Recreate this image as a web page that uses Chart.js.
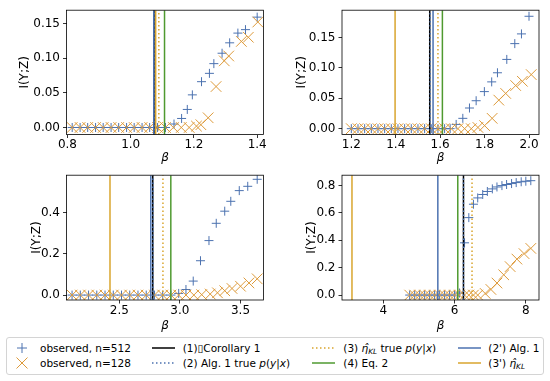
<!DOCTYPE html>
<html><head><meta charset="utf-8">
<script src="https://cdn.jsdelivr.net/npm/chart.js@4/dist/chart.umd.min.js"></script>
<style>
html,body{margin:0;padding:0;background:#fff;}
body{width:550px;height:381px;position:relative;overflow:hidden;font-family:"DejaVu Sans",sans-serif;}
canvas{position:absolute;}
#legend{position:absolute;left:6px;top:337px;width:538px;height:38px;box-sizing:border-box;border:1px solid #d4d4d4;border-radius:3px;}
.lt{position:absolute;font-size:10.5px;line-height:14px;white-space:nowrap;color:#000;}
.lt sub{font-size:70%;vertical-align:-0.3em;line-height:0;}
svg.lm{position:absolute;overflow:visible;}
</style></head>
<body>
<canvas id="c1" width="275" height="165" style="left:0;top:0;width:275px;height:165px"></canvas>
<canvas id="c2" width="275" height="165" style="left:275px;top:0;width:275px;height:165px"></canvas>
<canvas id="c3" width="275" height="168" style="left:0;top:165px;width:275px;height:168px"></canvas>
<canvas id="c4" width="275" height="168" style="left:275px;top:165px;width:275px;height:168px"></canvas>
<div id="legend"></div>
<script>
// ---------------- DATA ----------------
// Panel 1 (top-left)
const p1Beta512 = [0.815,0.840,0.864,0.889,0.913,0.938,0.962,0.987,1.011,1.036,1.060,1.085,1.110,1.137,1.161,1.179,1.195,1.224,1.249,1.263,1.289,1.313,1.339,1.363,1.400];
const p1I512    = [0,0,0,0,0,0,0,0,0,0,0,0,0,0.005,0.013,0.026,0.047,0.066,0.078,0.092,0.107,0.122,0.136,0.141,0.159];
const p1Beta128 = [0.815,0.840,0.864,0.889,0.913,0.938,0.962,0.987,1.011,1.036,1.060,1.085,1.110,1.135,1.160,1.185,1.208,1.222,1.245,1.270,1.296,1.310,1.350,1.372,1.402];
const p1I128    = [0,0,0,0,0,0,0,0,0,0,0,0,0,0,0,0,0.002,0.004,0.014,0.059,0.096,0.103,0.124,0.130,0.152];
const p1Lines   = [1.074,1.074,1.089,1.107,1.073,1.079]; // (1),(2),(3),(4),(2'),(3')
const p1XTicks  = [0.8,1.0,1.2,1.4];
const p1YTicks  = [0,0.05,0.10,0.15];

// Panel 2 (top-right)
const p2Beta512 = [1.200,1.230,1.260,1.290,1.320,1.350,1.380,1.410,1.440,1.470,1.500,1.530,1.560,1.590,1.620,1.645,1.672,1.702,1.732,1.762,1.799,1.832,1.858,1.900,1.936,1.966,2.000];
const p2I512    = [0,0,0,0,0,0,0,0,0,0,0,0,0,0,0,0,0.007,0.017,0.034,0.046,0.061,0.077,0.092,0.114,0.140,0.156,0.185];
const p2Beta128 = [1.200,1.230,1.260,1.290,1.320,1.350,1.380,1.410,1.440,1.470,1.500,1.530,1.560,1.590,1.620,1.650,1.680,1.710,1.740,1.770,1.800,1.834,1.864,1.895,1.940,1.970,2.010];
const p2I128    = [0,0,0,0,0,0,0,0,0,0,0,0,0,0,0,0,0,0,0,0.002,0.005,0.017,0.047,0.058,0.071,0.078,0.089];
const p2Lines   = [1.553,1.555,1.590,1.610,1.568,1.397];
const p2XTicks  = [1.2,1.4,1.6,1.8,2.0];
const p2YTicks  = [0,0.05,0.10,0.15];

// Panel 3 (bottom-left)
const p3Beta512 = [2.110,2.178,2.246,2.314,2.382,2.450,2.518,2.586,2.654,2.722,2.790,2.858,2.926,2.990,3.050,3.110,3.170,3.240,3.300,3.370,3.420,3.490,3.560,3.638];
const p3I512    = [0,0,0,0,0,0,0,0,0,0,0,0,0,0.008,0.027,0.068,0.167,0.265,0.349,0.408,0.456,0.508,0.529,0.563];
const p3Beta128 = [2.110,2.178,2.246,2.314,2.382,2.450,2.518,2.586,2.654,2.722,2.790,2.858,2.926,2.990,3.050,3.115,3.180,3.250,3.310,3.370,3.430,3.500,3.570,3.638];
const p3I128    = [0,0,0,0,0,0,0,0,0,0,0,0,0,0,0,0,0.002,0.005,0.011,0.021,0.032,0.043,0.059,0.079];
const p3Lines   = [2.776,2.778,2.860,2.925,2.760,2.423];
const p3XTicks  = [2.5,3.0,3.5];
const p3YTicks  = [0,0.2,0.4];

// Panel 4 (bottom-right)
const p4Beta512 = [4.74,4.88,5.02,5.16,5.30,5.44,5.58,5.72,5.86,6.00,6.14,6.28,6.40,6.53,6.65,6.79,6.92,7.06,7.19,7.33,7.46,7.60,7.73,7.87,8.00,8.14];
const p4I512    = [0,0,0,0,0,0,0,0,0,0,0.015,0.382,0.566,0.664,0.710,0.735,0.757,0.776,0.790,0.800,0.808,0.815,0.822,0.828,0.832,0.836];
const p4Beta128 = [4.74,4.88,5.02,5.16,5.30,5.44,5.58,5.72,5.86,6.00,6.14,6.28,6.40,6.53,6.65,6.86,7.02,7.19,7.38,7.56,7.75,7.95,8.14];
const p4I128    = [0,0,0,0,0,0,0,0,0,0,0,0,0,0,0,0.012,0.041,0.088,0.148,0.208,0.263,0.303,0.341];
const p4Lines   = [6.25,6.25,6.49,6.09,5.53,3.12];
const p4XTicks  = [4,6,8];
const p4YTicks  = [0,0.2,0.4,0.6,0.8];

// -------------- STYLES ---------------
const BLUE = '#4c72b0', ORANGE = '#dd9a3a', GOLD = '#d9a52e', GREEN = '#4f9a30', BLACK = '#000000';
const DOT = [1.5, 2.5];
const lineStyles = [
  {color: BLACK, dash: []},   // (1)
  {color: BLUE,  dash: DOT},  // (2)
  {color: GOLD,  dash: DOT},  // (3)
  {color: GREEN, dash: []},   // (4)
  {color: BLUE,  dash: []},   // (2')
  {color: GOLD,  dash: []}    // (3')
];

Chart.defaults.font.family = 'DejaVu Sans';
Chart.defaults.font.size = 12;
Chart.defaults.color = '#000';

const framePlugin = {
  id: 'frame',
  afterDatasetsDraw(chart) {
    const {ctx, chartArea: a} = chart;
    ctx.save();
    ctx.strokeStyle = '#000';
    ctx.lineWidth = 0.8;
    ctx.strokeRect(a.left, a.top, a.right - a.left, a.bottom - a.top);
    ctx.restore();
  }
};

function makePanel(id, o) {
  const ds = [];
  ds.push({
    data: o.b512.map((x, i) => ({x: x, y: o.i512[i]})),
    pointStyle: 'cross', pointRadius: 4.5, pointBorderWidth: 1,
    borderColor: BLUE, backgroundColor: BLUE, showLine: false, clip: 0, order: 100
  });
  ds.push({
    data: o.b128.map((x, i) => ({x: x, y: o.i128[i]})),
    pointStyle: 'crossRot', pointRadius: 7.5, pointBorderWidth: 1,
    borderColor: ORANGE, backgroundColor: ORANGE, showLine: false, clip: 0, order: 99
  });
  o.lines.forEach((v, k) => {
    ds.push({
      data: [{x: v, y: o.yMin}, {x: v, y: o.yMax}],
      showLine: true, pointRadius: 0, borderWidth: 1.5,
      borderColor: lineStyles[k].color, borderDash: lineStyles[k].dash,
      fill: false, clip: 0, order: 90 - k
    });
  });
  const tickFont = {family: 'DejaVu Sans', size: 12};
  return new Chart(document.getElementById(id), {
    type: 'scatter',
    data: {datasets: ds},
    plugins: [framePlugin],
    options: {
      responsive: false, animation: false, devicePixelRatio: 1, events: [],
      layout: {padding: o.pad},
      plugins: {legend: {display: false}, tooltip: {enabled: false}},
      scales: {
        x: {
          type: 'linear', min: o.xMin, max: o.xMax,
          afterBuildTicks: s => { s.ticks = o.xTicks.map(v => ({value: v})); },
          afterFit: s => { s.height = o.xH; },
          ticks: {font: tickFont, color: '#000', padding: 0, maxRotation: 0, minRotation: 0, autoSkip: false,
                  callback: v => Number(v).toFixed(o.xDec)},
          grid: {display: true, drawOnChartArea: false, drawTicks: true, tickLength: 3.5, color: '#000', lineWidth: 0.8},
          border: {display: false},
          title: {display: true, text: 'β', color: '#000', font: {family: 'DejaVu Sans', size: 12, style: 'italic'}, padding: {top: 0, bottom: 0}}
        },
        y: {
          type: 'linear', min: o.yMin, max: o.yMax,
          afterBuildTicks: s => { s.ticks = o.yTicks.map(v => ({value: v})); },
          afterFit: s => { s.width = o.yW; },
          ticks: {font: tickFont, color: '#000', padding: 3, autoSkip: false,
                  callback: v => Number(v).toFixed(o.yDec)},
          grid: {display: true, drawOnChartArea: false, drawTicks: true, tickLength: 3.5, color: '#000', lineWidth: 0.8},
          border: {display: false},
          title: {display: true, text: 'I(Y;Z)', color: '#000', font: {family: 'DejaVu Sans', size: 12}, padding: {top: o.yTitlePad, bottom: 0}}
        }
      }
    }
  });
}

makePanel('c1', {b512: p1Beta512, i512: p1I512, b128: p1Beta128, i128: p1I128, lines: p1Lines,
  xMin: 0.797, xMax: 1.42, yMin: -0.0101, yMax: 0.169, xTicks: p1XTicks, yTicks: p1YTicks, xDec: 1, yDec: 2,
  pad: {top: 5, right: 11.5, left: 0, bottom: 0}, yW: 66.5, xH: 30.5, yTitlePad: 17.8});
makePanel('c2', {b512: p2Beta512, i512: p2I512, b128: p2Beta128, i128: p2I128, lines: p2Lines,
  xMin: 1.158, xMax: 2.045, yMin: -0.0096, yMax: 0.195, xTicks: p2XTicks, yTicks: p2YTicks, xDec: 1, yDec: 2,
  pad: {top: 5, right: 11, left: 0, bottom: 0}, yW: 67, xH: 30.5, yTitlePad: 19.5});
makePanel('c3', {b512: p3Beta512, i512: p3I512, b128: p3Beta128, i128: p3I128, lines: p3Lines,
  xMin: 2.064, xMax: 3.69, yMin: -0.024, yMax: 0.583, xTicks: p3XTicks, yTicks: p3YTicks, xDec: 1, yDec: 1,
  pad: {top: 7.7, right: 11.5, left: 0, bottom: 0}, yW: 66.5, xH: 33, yTitlePad: 29.5});
makePanel('c4', {b512: p4Beta512, i512: p4I512, b128: p4Beta128, i128: p4I128, lines: p4Lines,
  xMin: 2.84, xMax: 8.37, yMin: -0.036, yMax: 0.876, xTicks: p4XTicks, yTicks: p4YTicks, xDec: 0, yDec: 1,
  pad: {top: 7.7, right: 11, left: 0, bottom: 0}, yW: 67, xH: 33, yTitlePad: 29.5});

// -------------- LEGEND ---------------
const legendLabels = [
  'observed, n=512',
  'observed, n=128',
  '(1)\u25AFCorollary 1',
  '(2) Alg. 1 true <i>p</i>(<i>y</i>|<i>x</i>)',
  '(3) <i>\u03B7\u0302</i><sub><i>KL</i></sub> true <i>p</i>(<i>y</i>|<i>x</i>)',
  '(4) Eq. 2',
  "(2') Alg. 1",
  "(3') <i>\u03B7\u0302</i><sub><i>KL</i></sub>"
];
const legendKinds = [
  {kind: 'plus', color: BLUE}, {kind: 'x', color: ORANGE},
  {kind: 'line', ...lineStyles[0]}, {kind: 'line', ...lineStyles[1]},
  {kind: 'line', ...lineStyles[2]}, {kind: 'line', ...lineStyles[3]},
  {kind: 'line', ...lineStyles[4]}, {kind: 'line', ...lineStyles[5]}
];
const colHandle = [11, 152, 312, 457.5];   // handle start x
const colText   = [40, 182.7, 343.3, 488.3];
const rowY      = [347.7, 362.7];
const body = document.body;
legendLabels.forEach((lab, i) => {
  const col = Math.floor(i / 2), row = i % 2;
  const cy = rowY[row];
  const k = legendKinds[i];
  const svgNS = 'http://www.w3.org/2000/svg';
  const svg = document.createElementNS(svgNS, 'svg');
  svg.setAttribute('class', 'lm');
  svg.setAttribute('width', '24'); svg.setAttribute('height', '14');
  svg.style.left = colHandle[col] + 'px';
  svg.style.top = (cy - 7) + 'px';
  let inner = '';
  if (k.kind === 'plus') {
    inner = `<line x1="6" y1="7" x2="16" y2="7" stroke="${k.color}" stroke-width="1"/><line x1="11" y1="2" x2="11" y2="12" stroke="${k.color}" stroke-width="1"/>`;
  } else if (k.kind === 'x') {
    inner = `<line x1="5.5" y1="1.5" x2="16.5" y2="12.5" stroke="${k.color}" stroke-width="1"/><line x1="5.5" y1="12.5" x2="16.5" y2="1.5" stroke="${k.color}" stroke-width="1"/>`;
  } else {
    const da = k.dash.length ? ` stroke-dasharray="${k.dash.join(' ')}"` : '';
    inner = `<line x1="0" y1="7" x2="23" y2="7" stroke="${k.color}" stroke-width="1.5"${da}/>`;
  }
  svg.innerHTML = inner;
  body.appendChild(svg);
  const t = document.createElement('div');
  t.className = 'lt';
  t.innerHTML = lab;
  t.style.left = colText[col] + 'px';
  t.style.top = (cy - 7) + 'px';
  body.appendChild(t);
});
</script>
</body></html>
